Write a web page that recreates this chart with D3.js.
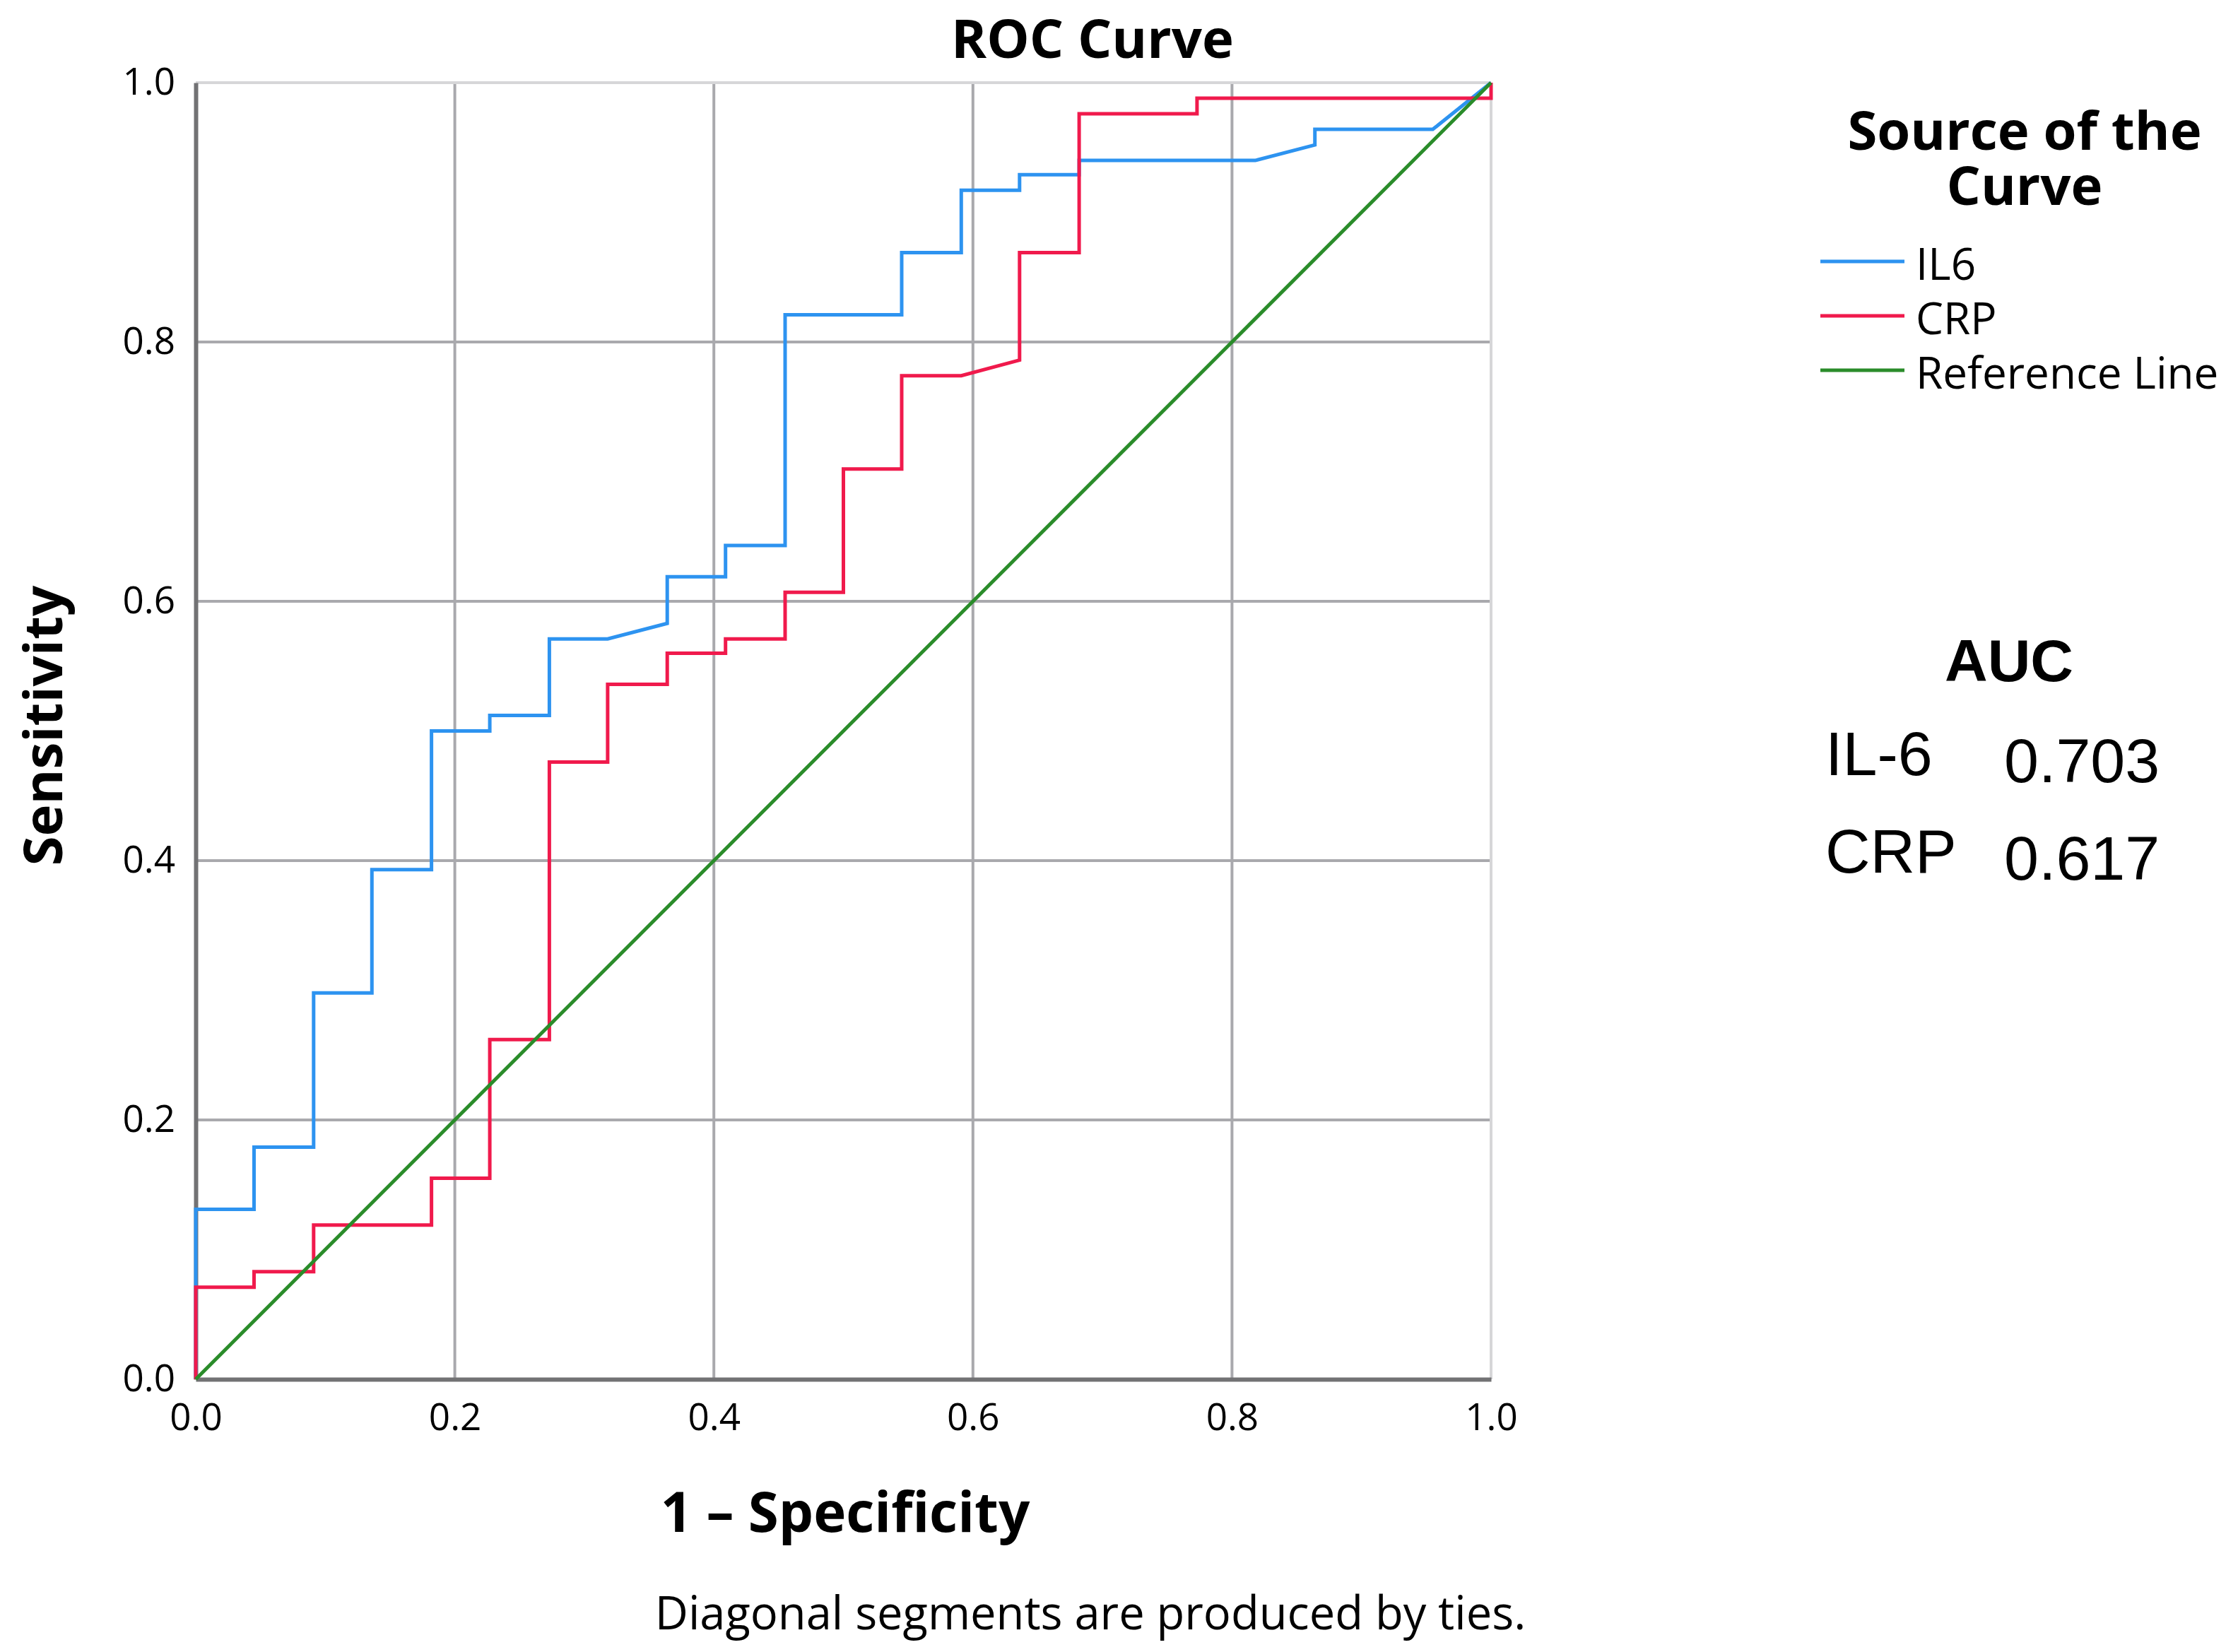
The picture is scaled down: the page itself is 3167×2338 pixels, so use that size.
<!DOCTYPE html>
<html>
<head>
<meta charset="utf-8">
<script src="https://cdn.jsdelivr.net/npm/d3@7"></script>
<style>
  body { margin: 0; background: #fff; }
  svg { display: block; }
</style>
</head>
<body>
<script>
// chart size
var W = 3167, H = 2338;

// ROC points (1 - specificity, sensitivity)
var il6X = [0, 0, 0.045, 0.045, 0.091, 0.091, 0.136, 0.136, 0.182, 0.182, 0.227, 0.227, 0.273, 0.273, 0.318, 0.364, 0.364, 0.409, 0.409, 0.455, 0.455, 0.545, 0.545, 0.591, 0.591, 0.636, 0.636, 0.682, 0.682, 0.818, 0.864, 0.864, 0.955, 1];
var il6Y = [0, 0.131, 0.131, 0.179, 0.179, 0.298, 0.298, 0.393, 0.393, 0.500, 0.500, 0.512, 0.512, 0.571, 0.571, 0.583, 0.619, 0.619, 0.643, 0.643, 0.821, 0.821, 0.869, 0.869, 0.917, 0.917, 0.929, 0.929, 0.940, 0.940, 0.952, 0.964, 0.964, 1];

var crpX = [0, 0, 0.045, 0.045, 0.091, 0.091, 0.182, 0.182, 0.227, 0.227, 0.273, 0.273, 0.318, 0.318, 0.364, 0.364, 0.409, 0.409, 0.455, 0.455, 0.500, 0.500, 0.545, 0.545, 0.591, 0.636, 0.636, 0.682, 0.682, 0.773, 0.773, 1, 1];
var crpY = [0, 0.071, 0.071, 0.083, 0.083, 0.119, 0.119, 0.155, 0.155, 0.262, 0.262, 0.476, 0.476, 0.536, 0.536, 0.560, 0.560, 0.571, 0.571, 0.607, 0.607, 0.702, 0.702, 0.774, 0.774, 0.786, 0.869, 0.869, 0.976, 0.976, 0.988, 0.988, 1];

var refX = [0, 1];
var refY = [0, 1];

var ticks = [0, 0.2, 0.4, 0.6, 0.8, 1.0];

var legendNames = ["IL6", "CRP", "Reference Line"];
var legendColors = ["#2d93f0", "#f01a4c", "#2a8c2a"];

var aucNames = ["IL-6", "CRP"];
var aucValues = ["0.703", "0.617"];

// main svg
var svg = d3.select("body").append("svg")
  .attr("width", W)
  .attr("height", H);

var x = d3.scaleLinear().domain([0, 1]).range([277, 2110]);
var y = d3.scaleLinear().domain([0, 1]).range([1952, 117]);

// grid lines
svg.append("g").selectAll("line")
  .data(ticks.slice(1, 5))
  .enter().append("line")
  .attr("x1", function(d) { return x(d); })
  .attr("x2", function(d) { return x(d); })
  .attr("y1", y(1)).attr("y2", y(0))
  .attr("stroke", "#a9a9ad").attr("stroke-width", 4);

svg.append("g").selectAll("line")
  .data(ticks.slice(1, 5))
  .enter().append("line")
  .attr("y1", function(d) { return y(d); })
  .attr("y2", function(d) { return y(d); })
  .attr("x1", x(0)).attr("x2", x(1))
  .attr("stroke", "#a9a9ad").attr("stroke-width", 4);

// light frame on top and right
svg.append("line").attr("x1", x(0)).attr("x2", x(1)).attr("y1", y(1)).attr("y2", y(1))
  .attr("stroke", "#d6d6d8").attr("stroke-width", 4);
svg.append("line").attr("x1", x(1)).attr("x2", x(1)).attr("y1", y(1)).attr("y2", y(0))
  .attr("stroke", "#d6d6d8").attr("stroke-width", 4);

// axes
var tickFont = "'Open Sans', 'DejaVu Sans', sans-serif";

var xAxis = svg.append("g")
  .attr("transform", "translate(0," + y(0) + ")")
  .call(d3.axisBottom(x).tickValues(ticks).tickFormat(d3.format(".1f")).tickSize(0).tickPadding(34));
xAxis.select(".domain").attr("stroke", "#727274").attr("stroke-width", 6);
xAxis.selectAll("text").attr("font-family", tickFont).attr("font-size", 53).attr("fill", "#000");

var yAxis = svg.append("g")
  .attr("transform", "translate(" + x(0) + ",0)")
  .call(d3.axisLeft(y).tickValues(ticks).tickFormat(d3.format(".1f")).tickSize(0).tickPadding(29));
yAxis.select(".domain").attr("stroke", "#727274").attr("stroke-width", 6);
yAxis.selectAll("text").attr("font-family", tickFont).attr("font-size", 53).attr("fill", "#000");

// curves
var line = d3.line()
  .x(function(d) { return x(d[0]); })
  .y(function(d) { return y(d[1]); });

var series = [
  { xs: il6X, ys: il6Y, color: legendColors[0] },
  { xs: crpX, ys: crpY, color: legendColors[1] },
  { xs: refX, ys: refY, color: legendColors[2] }
];

svg.selectAll("path.curve")
  .data(series)
  .enter().append("path")
  .attr("class", "curve")
  .attr("fill", "none")
  .attr("stroke", function(d) { return d.color; })
  .attr("stroke-width", 5)
  .attr("d", function(d) { return line(d3.zip(d.xs, d.ys)); });

// titles
var boldFont = "'Open Sans', 'DejaVu Sans', sans-serif";

svg.append("text")
  .attr("x", 1546).attr("y", 82)
  .attr("text-anchor", "middle")
  .attr("font-family", boldFont).attr("font-weight", "bold").attr("font-size", 76)
  .text("ROC Curve");

svg.append("text")
  .attr("x", 1196).attr("y", 2168)
  .attr("text-anchor", "middle")
  .attr("font-family", boldFont).attr("font-weight", "bold").attr("font-size", 78)
  .text("1 \u2013 Specificity");

svg.append("text")
  .attr("transform", "translate(88,1027) rotate(-90)")
  .attr("text-anchor", "middle")
  .attr("font-family", boldFont).attr("font-weight", "bold").attr("font-size", 76)
  .text("Sensitivity");

svg.append("text")
  .attr("x", 1543).attr("y", 2306)
  .attr("text-anchor", "middle")
  .attr("font-family", tickFont).attr("font-size", 65)
  .text("Diagonal segments are produced by ties.");

// legend
svg.append("text")
  .attr("x", 2865).attr("y", 212)
  .attr("text-anchor", "middle")
  .attr("font-family", boldFont).attr("font-weight", "bold").attr("font-size", 76)
  .text("Source of the");
svg.append("text")
  .attr("x", 2865).attr("y", 290)
  .attr("text-anchor", "middle")
  .attr("font-family", boldFont).attr("font-weight", "bold").attr("font-size", 76)
  .text("Curve");

var leg = svg.append("g").selectAll("g")
  .data(legendNames)
  .enter().append("g")
  .attr("transform", function(d, i) { return "translate(0," + (396 + i * 77) + ")"; });

leg.append("line")
  .attr("x1", 2576).attr("x2", 2695)
  .attr("y1", -26).attr("y2", -26)
  .attr("stroke", function(d, i) { return legendColors[i]; })
  .attr("stroke-width", 5);

leg.append("text")
  .attr("x", 2711).attr("y", 0)
  .attr("font-family", tickFont).attr("font-size", 62)
  .text(function(d) { return d; });

// AUC table
var arial = "'Liberation Sans', Arial, sans-serif";

svg.append("text")
  .attr("x", 2843).attr("y", 964)
  .attr("text-anchor", "middle")
  .attr("font-family", arial).attr("font-weight", "bold").attr("font-size", 84)
  .text("AUC");

svg.selectAll("text.aucname")
  .data(aucNames)
  .enter().append("text")
  .attr("class", "aucname")
  .attr("x", 2583)
  .attr("y", function(d, i) { return 1097 + i * 138; })
  .attr("font-family", arial).attr("font-size", 88)
  .text(function(d) { return d; });

svg.selectAll("text.aucval")
  .data(aucValues)
  .enter().append("text")
  .attr("class", "aucval")
  .attr("x", 2836)
  .attr("y", function(d, i) { return 1107 + i * 138; })
  .attr("font-family", arial).attr("font-size", 88)
  .text(function(d) { return d; });
</script>
</body>
</html>
